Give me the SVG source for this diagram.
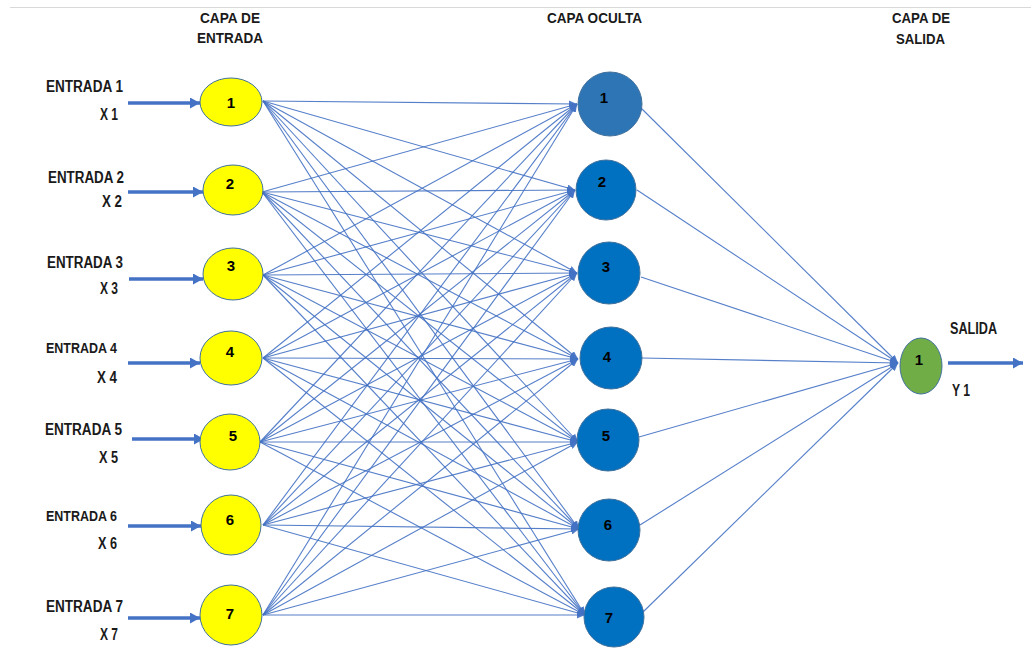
<svg xmlns="http://www.w3.org/2000/svg" width="1031" height="648" viewBox="0 0 1031 648">
  <style>
    .lbl { font-family: "Liberation Sans", Arial, sans-serif; font-weight: bold; font-size: 16px; fill: #1a1a1a; }
    .num { font-family: "Liberation Sans", Arial, sans-serif; font-weight: bold; font-size: 15px; fill: #000; text-anchor: middle; }
    .in { fill: #FFFF00; stroke: #41719C; stroke-width: 1; }
    .hid { fill: #0070C0; stroke: #41719C; stroke-width: 1; }
    .out { fill: #70AD47; stroke: #41719C; stroke-width: 1; }
    .edge { stroke: #4472C4; stroke-width: 1.1; fill: none; marker-end: url(#tip); opacity: 0.9; }
    .feed { stroke: #4472C4; stroke-width: 3.5; fill: none; marker-end: url(#bigtip); }
  </style>
  <defs>
    <marker id="tip" markerUnits="userSpaceOnUse" markerWidth="9" markerHeight="7" refX="8" refY="3.5" orient="auto">
      <path d="M0,0 L8,3.5 L0,7 z" fill="#4472C4"/>
    </marker>
    <marker id="bigtip" markerUnits="userSpaceOnUse" markerWidth="11" markerHeight="11" refX="10" refY="5.5" orient="auto">
      <path d="M0,0 L10,5.5 L0,11 z" fill="#4472C4"/>
    </marker>
  </defs>

  <rect width="1031" height="648" fill="#ffffff"/>
  <line x1="10" y1="7.5" x2="1031" y2="7.5" stroke="#d9d9d9" stroke-width="1"/>

  <!-- layer titles -->
  <g id="titles">
    <text class="lbl" x="200" y="23" textLength="60" lengthAdjust="spacingAndGlyphs" style="font-size:15px">CAPA DE</text>
    <text class="lbl" x="197" y="43" textLength="66" lengthAdjust="spacingAndGlyphs" style="font-size:15px">ENTRADA</text>
    <text class="lbl" x="547" y="23" textLength="95" lengthAdjust="spacingAndGlyphs" style="font-size:15px">CAPA OCULTA</text>
    <text class="lbl" x="892" y="23" textLength="58" lengthAdjust="spacingAndGlyphs" style="font-size:15px">CAPA DE</text>
    <text class="lbl" x="896" y="44" textLength="49" lengthAdjust="spacingAndGlyphs" style="font-size:15px">SALIDA</text>
  </g>

  <!-- connectors: input -> hidden (fully connected), hidden -> output, feed arrows -->
  <g id="connectors">
    <!-- from input 1 -->
    <path class="edge" d="M263,101 L577,104"/>
    <path class="edge" d="M263,101 L575,190"/>
    <path class="edge" d="M263,101 L577,273"/>
    <path class="edge" d="M263,101 L578,359"/>
    <path class="edge" d="M263,101 L578,442"/>
    <path class="edge" d="M263,101 L579,529"/>
    <path class="edge" d="M263,101 L585,615"/>
    <!-- from input 2 -->
    <path class="edge" d="M262,192 L577,104"/>
    <path class="edge" d="M262,192 L575,190"/>
    <path class="edge" d="M262,192 L577,273"/>
    <path class="edge" d="M262,192 L578,359"/>
    <path class="edge" d="M262,192 L578,442"/>
    <path class="edge" d="M262,192 L579,529"/>
    <path class="edge" d="M262,192 L585,615"/>
    <!-- from input 3 -->
    <path class="edge" d="M263,275 L577,104"/>
    <path class="edge" d="M263,275 L575,190"/>
    <path class="edge" d="M263,275 L577,273"/>
    <path class="edge" d="M263,275 L578,359"/>
    <path class="edge" d="M263,275 L578,442"/>
    <path class="edge" d="M263,275 L579,529"/>
    <path class="edge" d="M263,275 L585,615"/>
    <!-- from input 4 -->
    <path class="edge" d="M263,358 L577,104"/>
    <path class="edge" d="M263,358 L575,190"/>
    <path class="edge" d="M263,358 L577,273"/>
    <path class="edge" d="M263,358 L578,359"/>
    <path class="edge" d="M263,358 L578,442"/>
    <path class="edge" d="M263,358 L579,529"/>
    <path class="edge" d="M263,358 L585,615"/>
    <!-- from input 5 -->
    <path class="edge" d="M260,442 L577,104"/>
    <path class="edge" d="M260,442 L575,190"/>
    <path class="edge" d="M260,442 L577,273"/>
    <path class="edge" d="M260,442 L578,359"/>
    <path class="edge" d="M260,442 L578,442"/>
    <path class="edge" d="M260,442 L579,529"/>
    <path class="edge" d="M260,442 L585,615"/>
    <!-- from input 6 -->
    <path class="edge" d="M263,525 L577,104"/>
    <path class="edge" d="M263,525 L575,190"/>
    <path class="edge" d="M263,525 L577,273"/>
    <path class="edge" d="M263,525 L578,359"/>
    <path class="edge" d="M263,525 L578,442"/>
    <path class="edge" d="M263,525 L579,529"/>
    <path class="edge" d="M263,525 L585,615"/>
    <!-- from input 7 -->
    <path class="edge" d="M263,615 L577,104"/>
    <path class="edge" d="M263,615 L575,190"/>
    <path class="edge" d="M263,615 L577,273"/>
    <path class="edge" d="M263,615 L578,359"/>
    <path class="edge" d="M263,615 L578,442"/>
    <path class="edge" d="M263,615 L579,529"/>
    <path class="edge" d="M263,615 L585,615"/>
    <!-- hidden -> output -->
    <path class="edge" d="M641,108 L898,363"/>
    <path class="edge" d="M637,190 L898,363"/>
    <path class="edge" d="M641,277 L898,363"/>
    <path class="edge" d="M642,358 L898,363"/>
    <path class="edge" d="M639,437 L898,363"/>
    <path class="edge" d="M640,525 L898,363"/>
    <path class="edge" d="M643,612 L898,363"/>
    <!-- feed arrows into the inputs and out of the output -->
    <path class="feed" d="M128,103 L200,103"/>
    <path class="feed" d="M128,192 L203,192"/>
    <path class="feed" d="M129,279 L203,279"/>
    <path class="feed" d="M128,363 L200,363"/>
    <path class="feed" d="M132,439 L204,439"/>
    <path class="feed" d="M128,526 L201,526"/>
    <path class="feed" d="M128,618 L200,618"/>
    <path class="feed" d="M948,363 L1023,363"/>
  </g>

  <!-- input layer -->
  <g id="in1"><ellipse class="in" cx="231" cy="102" rx="31" ry="24"/><text class="num" x="231" y="108">1</text>
    <text class="lbl" x="46" y="92" textLength="77" lengthAdjust="spacingAndGlyphs">ENTRADA 1</text>
    <text class="lbl" x="100" y="120" textLength="18" lengthAdjust="spacingAndGlyphs">X 1</text></g>
  <g id="in2"><ellipse class="in" cx="233" cy="190" rx="30" ry="25"/><text class="num" x="230" y="189">2</text>
    <text class="lbl" x="48" y="183" textLength="76" lengthAdjust="spacingAndGlyphs">ENTRADA 2</text>
    <text class="lbl" x="102" y="207" textLength="20" lengthAdjust="spacingAndGlyphs">X 2</text></g>
  <g id="in3"><ellipse class="in" cx="233" cy="274" rx="30" ry="26"/><text class="num" x="231" y="271">3</text>
    <text class="lbl" x="47" y="268" textLength="76" lengthAdjust="spacingAndGlyphs">ENTRADA 3</text>
    <text class="lbl" x="100" y="294" textLength="18" lengthAdjust="spacingAndGlyphs">X 3</text></g>
  <g id="in4"><ellipse class="in" cx="231" cy="358" rx="31" ry="27"/><text class="num" x="230" y="357">4</text>
    <text class="lbl" x="46" y="353" textLength="71" lengthAdjust="spacingAndGlyphs" style="font-size:15px">ENTRADA 4</text>
    <text class="lbl" x="97" y="383" textLength="20" lengthAdjust="spacingAndGlyphs">X 4</text></g>
  <g id="in5"><ellipse class="in" cx="230" cy="442" rx="30" ry="28"/><text class="num" x="233" y="441">5</text>
    <text class="lbl" x="45" y="435" textLength="77" lengthAdjust="spacingAndGlyphs">ENTRADA 5</text>
    <text class="lbl" x="99" y="463" textLength="19" lengthAdjust="spacingAndGlyphs">X 5</text></g>
  <g id="in6"><ellipse class="in" cx="231" cy="525" rx="30" ry="30"/><text class="num" x="230" y="525">6</text>
    <text class="lbl" x="46" y="521" textLength="71" lengthAdjust="spacingAndGlyphs" style="font-size:15px">ENTRADA 6</text>
    <text class="lbl" x="98" y="549" textLength="19" lengthAdjust="spacingAndGlyphs">X 6</text></g>
  <g id="in7"><ellipse class="in" cx="231" cy="615" rx="31" ry="30"/><text class="num" x="230" y="619">7</text>
    <text class="lbl" x="46" y="612" textLength="77" lengthAdjust="spacingAndGlyphs">ENTRADA 7</text>
    <text class="lbl" x="100" y="640" textLength="18" lengthAdjust="spacingAndGlyphs">X 7</text></g>

  <!-- hidden layer -->
  <g id="h1"><circle cx="610" cy="104" r="32" fill="#2E75B6" stroke="#41719C"/><text class="num" x="604" y="103">1</text></g>
  <g id="h2"><circle class="hid" cx="606" cy="190" r="30"/><text class="num" x="602" y="187">2</text></g>
  <g id="h3"><circle class="hid" cx="609" cy="273" r="31"/><text class="num" x="606" y="272">3</text></g>
  <g id="h4"><circle class="hid" cx="611" cy="358" r="31"/><text class="num" x="607" y="362">4</text></g>
  <g id="h5"><circle class="hid" cx="608" cy="440" r="31"/><text class="num" x="606" y="441">5</text></g>
  <g id="h6"><circle class="hid" cx="609" cy="530" r="31"/><text class="num" x="608" y="530">6</text></g>
  <g id="h7"><circle class="hid" cx="614" cy="617" r="30"/><text class="num" x="609" y="623">7</text></g>

  <!-- output layer -->
  <g id="o1"><ellipse class="out" cx="921" cy="366" rx="21" ry="28"/><text class="num" x="919" y="365">1</text>
    <text class="lbl" x="950" y="334" textLength="47" lengthAdjust="spacingAndGlyphs">SALIDA</text>
    <text class="lbl" x="952" y="396" textLength="18" lengthAdjust="spacingAndGlyphs">Y 1</text></g>
</svg>
